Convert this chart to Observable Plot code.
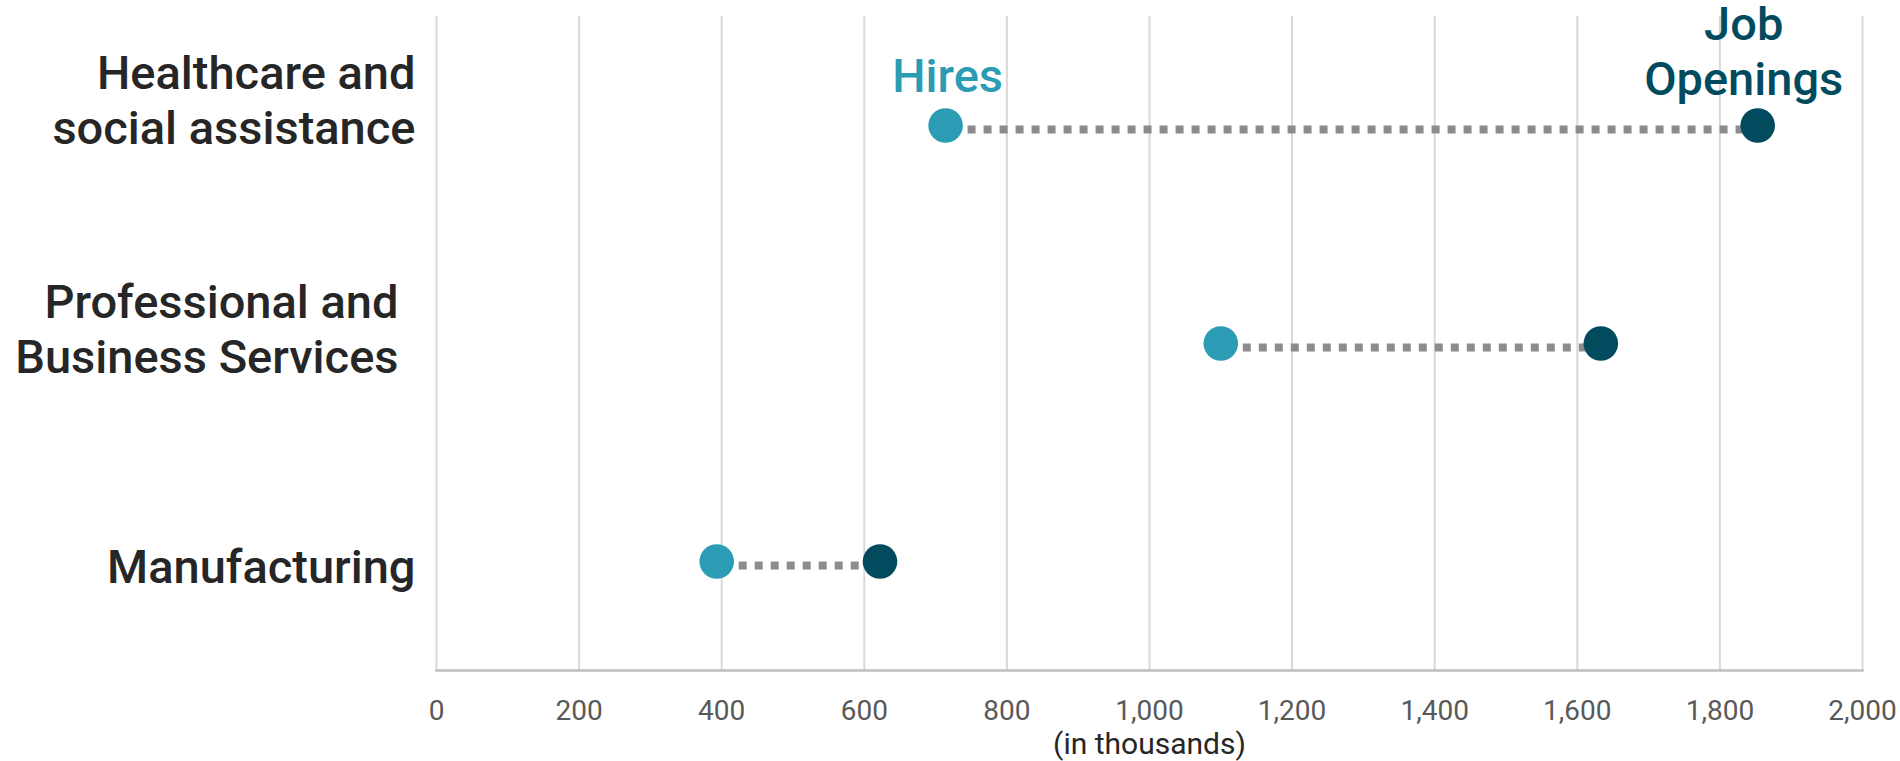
<!DOCTYPE html>
<html>
<head>
<meta charset="utf-8">
<script src="https://cdn.jsdelivr.net/npm/d3@7"></script>
<script src="https://cdn.jsdelivr.net/npm/@observablehq/plot@0.6"></script>
<style>
  html, body { margin: 0; padding: 0; background: #ffffff; }
  #chart svg { display: block; }
</style>
</head>
<body>
<div id="chart"></div>
<script>
// Industries, top to bottom
const categories = [
  "Healthcare and social assistance",
  "Professional and Business Services",
  "Manufacturing"
];
// Wrapped category labels as drawn on the left
const categoryLabels = [
  "Healthcare and\nsocial assistance",
  "Professional and\nBusiness Services",
  "Manufacturing"
];
// Values in thousands
const hires = [714, 1100, 393];
const jobOpenings = [1853, 1633, 622];
const xTicks = [0, 200, 400, 600, 800, 1000, 1200, 1400, 1600, 1800, 2000];

const hiresColor = "#2b9cb4";
const openingsColor = "#024b5f";
const font = "Roboto, 'Noto Sans', sans-serif";

const rows = categories.map((c, i) => ({
  category: c,
  label: categoryLabels[i],
  hires: hires[i],
  openings: jobOpenings[i]
}));

// Per-row nudge of the wrapped category labels (baseline of the last line)
const labelDy = {
  "Healthcare and social assistance": 18,
  "Professional and Business Services": 29,
  "Manufacturing": 21
};
const labelDx = {
  "Healthcare and social assistance": -21,
  "Professional and Business Services": -38,
  "Manufacturing": -21
};

const labelMarks = rows.map(r =>
  Plot.text([r], {
    y: "category",
    text: "label",
    frameAnchor: "left",
    textAnchor: "end",
    lineAnchor: "bottom",
    lineHeight: 1.17,
    dx: labelDx[r.category],
    dy: labelDy[r.category],
    fontSize: 47,
    fontWeight: 500,
    fill: "#262626"
  })
);

const firstRow = rows[0];

const chart = Plot.plot({
  width: 1900,
  height: 761,
  marginLeft: 436,
  marginRight: 38,
  marginTop: 16,
  marginBottom: 91,
  style: { fontFamily: font, background: "#ffffff" },
  x: { domain: [0, 2000], ticks: xTicks },
  y: { type: "point", domain: categories, padding: 0.5, axis: null },
  marks: [
    // vertical gridlines
    Plot.ruleX(xTicks, { stroke: "#d9d9d9", strokeWidth: 2 }),
    // baseline
    Plot.frame({ anchor: "bottom", stroke: "#bfbfbf", strokeWidth: 2.5 }),
    Plot.axisX({
      ticks: xTicks,
      tickSize: 0,
      tickPadding: 30,
      tickFormat: d3.format(","),
      fontSize: 28,
      color: "#595959",
      label: null
    }),
    Plot.text(["(in thousands)"], {
      frameAnchor: "bottom",
      lineAnchor: "top",
      dy: 62,
      fontSize: 30,
      fill: "#262626"
    }),
    // dotted connector between hires and openings
    Plot.link(rows, {
      x1: "hires",
      x2: "openings",
      y1: "category",
      y2: "category",
      dy: 4,
      stroke: "#8c8c8c",
      strokeWidth: 8,
      strokeDasharray: "8 8",
      strokeDashoffset: -6
    }),
    Plot.dot(rows, { x: "hires", y: "category", r: 17.3, fill: hiresColor }),
    Plot.dot(rows, { x: "openings", y: "category", r: 17.3, fill: openingsColor }),
    // series labels above the top row
    Plot.text([firstRow], {
      x: "hires", y: "category", text: () => "Hires",
      lineAnchor: "bottom", dx: 2, dy: -34,
      fontSize: 47, fontWeight: 500, fill: hiresColor
    }),
    Plot.text([firstRow], {
      x: "openings", y: "category", text: () => "Job\nOpenings",
      lineAnchor: "bottom", lineHeight: 1.17, dx: -14, dy: -31,
      fontSize: 47, fontWeight: 500, fill: openingsColor
    }),
    ...labelMarks
  ]
});

document.getElementById("chart").appendChild(chart);
</script>
</body>
</html>
